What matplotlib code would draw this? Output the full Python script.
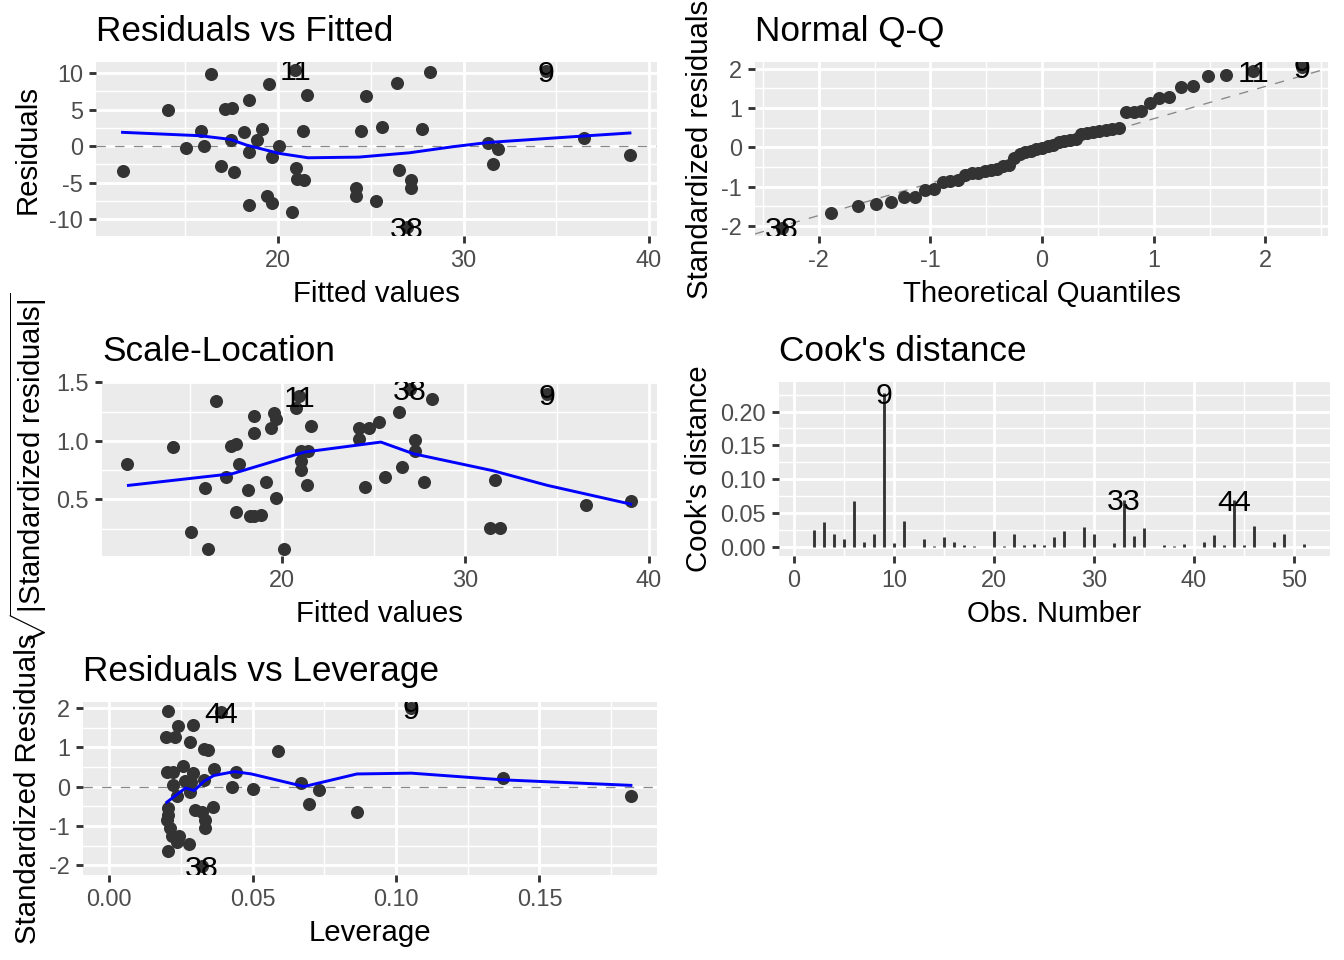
import numpy as np
import matplotlib
matplotlib.use("Agg")
import matplotlib.pyplot as plt
from matplotlib.ticker import FixedLocator

plt.rcParams["font.family"] = ["Liberation Sans", "DejaVu Sans"]
plt.rcParams["mathtext.fontset"] = "custom"
plt.rcParams["mathtext.rm"] = "Liberation Sans"
plt.rcParams["mathtext.it"] = "Liberation Sans:italic"
plt.rcParams["axes.unicode_minus"] = False

# ---- Residuals vs Fitted ----
rf_fitted = [11.62, 14.05, 15.03, 15.87, 16.00, 16.39, 16.94, 17.17, 17.52, 17.49,
             17.64, 18.17, 18.44, 18.44, 18.44, 18.85, 19.12, 19.40, 19.53, 19.67,
             19.67, 20.06, 20.78, 20.94, 20.99, 21.03, 21.42, 21.33, 21.58, 24.19,
             24.19, 24.46, 24.74, 25.30, 25.58, 26.39, 26.51, 26.96, 27.19, 27.19,
             27.76, 28.17, 31.31, 31.85, 31.58, 34.44, 36.49, 38.97]
rf_resid = [-3.44, 4.91, -0.32, 2.06, 0.00, 9.86, -2.71, 5.05, 5.18, 0.83,
            -3.53, 1.88, 6.33, -0.78, -8.03, 0.83, 2.34, -6.83, 8.49, -1.47,
            -7.75, 0.05, -9.04, 10.46, -2.98, -4.45, -4.68, 2.11, 7.02, -5.73,
            -6.83, 2.06, 6.88, -7.48, 2.66, 8.62, -3.30, -11.10, -4.59, -5.69,
            2.34, 10.09, 0.37, -0.46, -2.39, 10.23, 1.06, -1.24]
rf_smooth_x = [11.62, 15.77, 17.43, 18.30, 20.06, 21.62, 24.35, 27.08, 29.42, 31.36, 36.49, 38.97]
rf_smooth_y = [1.88, 1.42, 0.92, 0.14, -1.00, -1.60, -1.51, -0.92, -0.09, 0.50, 1.38, 1.79]
rf_labels = [("11", 20.94, 10.46), ("9", 34.44, 10.23), ("38", 26.96, -11.10)]

# ---- Normal Q-Q ----
qq_theo = [-2.33, -1.89, -1.65, -1.49, -1.35, -1.24, -1.14, -1.05, -0.97, -0.89,
           -0.82, -0.75, -0.69, -0.63, -0.57, -0.51, -0.46, -0.40, -0.35, -0.30,
           -0.25, -0.20, -0.15, -0.10, -0.05, 0.00, 0.05, 0.10, 0.15, 0.20,
           0.25, 0.30, 0.35, 0.40, 0.46, 0.51, 0.57, 0.63, 0.69, 0.75,
           0.82, 0.89, 0.97, 1.05, 1.14, 1.24, 1.35, 1.49, 1.65, 1.89, 2.33]
qq_sample = [-2.04, -1.66, -1.49, -1.43, -1.38, -1.27, -1.27, -1.07, -1.05, -0.87,
             -0.86, -0.84, -0.69, -0.65, -0.64, -0.60, -0.57, -0.54, -0.48, -0.45,
             -0.26, -0.17, -0.11, -0.08, -0.05, -0.02, 0.03, 0.06, 0.13, 0.17,
             0.19, 0.22, 0.34, 0.37, 0.39, 0.41, 0.43, 0.46, 0.50, 0.89,
             0.91, 0.93, 1.13, 1.25, 1.28, 1.54, 1.57, 1.81, 1.85, 1.93, 2.04]
qq_line_slope = 0.82
qq_line_icept = -0.09
qq_labels = [("38", -2.33, -2.04), ("11", 1.89, 1.93), ("9", 2.33, 2.04)]

# ---- Scale-Location ----
sl_fitted = [11.57, 14.06, 15.02, 15.83, 15.95, 16.41, 16.94, 17.22, 17.49, 17.49,
             17.63, 18.14, 18.28, 18.48, 18.84, 18.46, 18.46, 19.13, 19.41, 19.57,
             19.70, 19.70, 20.10, 20.79, 20.95, 21.05, 21.44, 21.05, 21.05, 21.34,
             21.60, 24.20, 24.76, 24.20, 24.50, 25.31, 25.59, 26.40, 26.54, 26.97,
             27.23, 27.23, 27.76, 28.19, 31.35, 31.90, 31.61, 34.47, 36.56, 39.01]
sl_sqrt_std = [0.80, 0.95, 0.22, 0.60, 0.08, 1.34, 0.69, 0.96, 0.97, 0.39,
               0.80, 0.58, 0.36, 0.355, 0.37, 1.21, 1.07, 0.645, 1.11, 1.24,
               1.185, 0.51, 0.08, 1.28, 1.38, 0.915, 0.915, 0.83, 0.75, 0.62,
               1.13, 1.11, 1.11, 1.02, 0.61, 1.165, 0.69, 1.25, 0.775, 1.44,
               1.01, 0.915, 0.65, 1.355, 0.26, 0.26, 0.665, 1.40, 0.45, 0.49]
sl_smooth_x = [11.63, 17.30, 21.24, 25.39, 27.17, 31.51, 34.47, 39.01]
sl_smooth_y = [0.62, 0.72, 0.905, 0.99, 0.89, 0.745, 0.62, 0.46]
sl_labels = [("11", 20.95, 1.38), ("38", 26.97, 1.44), ("9", 34.47, 1.40)]

# ---- Cook's distance ----
obs_number = list(range(1, 52))
cooks_d = [0.001, 0.026, 0.0375, 0.019, 0.0125, 0.068, 0.007, 0.019, 0.227, 0.006,
           0.039, 0.001, 0.0125, 0.002, 0.015, 0.0077, 0.003, 0.0015, 0.001, 0.024,
           0.002, 0.020, 0.0034, 0.0043, 0.0034, 0.015, 0.0235, 0.001, 0.030, 0.020,
           0.0005, 0.0067, 0.070, 0.017, 0.029, 0.0005, 0.0038, 0.002, 0.0053, 0.0005,
           0.0077, 0.018, 0.003, 0.069, 0.0034, 0.032, 0.0005, 0.0077, 0.019, 0.0005,
           0.0043]
cd_labels = [("9", 9, 0.227), ("33", 33, 0.070), ("44", 44, 0.069)]

# ---- Residuals vs Leverage ----
lev = [0.0205, 0.0240, 0.0293, 0.0197, 0.0230, 0.0282, 0.0330, 0.0345, 0.0390, 0.0589,
       0.0201, 0.0223, 0.0256, 0.0293, 0.0264, 0.0286, 0.0330, 0.0367, 0.0441, 0.0223,
       0.0428, 0.0503, 0.0236, 0.0283, 0.0670, 0.0730, 0.0697, 0.0864, 0.1373, 0.1819,
       0.1054, 0.0205, 0.0205, 0.0201, 0.0214, 0.0218, 0.0244, 0.0236, 0.0280, 0.0207,
       0.0299, 0.0323, 0.0333, 0.0333, 0.0362, 0.0323]
lev_std_res = [1.92, 1.54, 1.57, 1.27, 1.25, 1.14, 0.96, 0.93, 1.89, 0.91,
               0.38, 0.38, 0.51, 0.34, 0.14, 0.11, 0.17, 0.45, 0.36, 0.03,
               -0.02, -0.06, -0.25, -0.13, 0.08, -0.08, -0.45, -0.65, 0.21, -0.25,
               1.99, -0.55, -0.72, -0.85, -1.06, -1.27, -1.27, -1.40, -1.47, -1.64,
               -0.59, -0.64, -0.85, -1.06, -0.51, -2.03]
lev_smooth_x = [0.0201, 0.0266, 0.0297, 0.0332, 0.0365, 0.0437, 0.0496, 0.0680, 0.0864, 0.1054, 0.1373, 0.1819]
lev_smooth_y = [-0.40, -0.04, -0.10, 0.14, 0.28, 0.38, 0.32, 0.00, 0.32, 0.34, 0.17, 0.03]
lev_labels = [("44", 0.0390, 1.89), ("9", 0.1054, 1.99), ("38", 0.0323, -2.03)]

W, H = 1344, 960
PT_COLOR = "#333333"
REF_COLOR = "#888888"
SMOOTH_COLOR = "#0000FF"


def rect(l, t, r, b):
    return [l / W, 1 - b / H, (r - l) / W, (b - t) / H]


def style(ax, xmaj, xmin, ymaj, ymin, xfmt, yfmt):
    ax.set_facecolor("#EBEBEB")
    for s in ax.spines.values():
        s.set_visible(False)
    ax.xaxis.set_major_locator(FixedLocator(xmaj))
    ax.yaxis.set_major_locator(FixedLocator(ymaj))
    ax.set_xticks(xmin, minor=True)
    ax.set_yticks(ymin, minor=True)
    ax.set_xticklabels([xfmt.format(v) for v in xmaj])
    ax.set_yticklabels([yfmt.format(v) for v in ymaj])
    ax.grid(which="major", color="white", linewidth=1.07)
    ax.grid(which="minor", color="white", linewidth=0.53)
    ax.set_axisbelow(True)
    ax.tick_params(which="major", length=2.75, width=1.07, color="#333333",
                   labelsize=8.8, labelcolor="#4D4D4D", pad=2.2)
    ax.tick_params(which="minor", length=0)


def labels(ax, items):
    # ggplot centres the glyphs on the point; nudge down a little to match
    for txt, x, y in items:
        ax.annotate(txt, (x, y), xytext=(0, -1.0), textcoords="offset points",
                    ha="center", va="center", fontsize=11.4, color="black",
                    annotation_clip=False, clip_on=True)


def titles(ax, title, xl, yl):
    ax.set_title(title, loc="left", fontsize=13.2, pad=7.9)
    ax.set_xlabel(xl, fontsize=11, labelpad=2.75)
    ax.set_ylabel(yl, fontsize=11, labelpad=2.75)


fig = plt.figure(figsize=(7, 5), dpi=192)

# Residuals vs Fitted
ax1 = fig.add_axes(rect(96, 62, 657, 236))
style(ax1, [20, 30, 40], [15, 25, 35], [-10, -5, 0, 5, 10], [-7.5, -2.5, 2.5, 7.5], "{:g}", "{:g}")
ax1.set_xlim(10.19, 40.43)
ax1.set_ylim(-12.3, 11.5)
ax1.axhline(0, color=REF_COLOR, lw=0.5, ls=(0, (7, 7)))
ax1.scatter(rf_fitted, rf_resid, s=24, color=PT_COLOR, linewidths=0, zorder=3)
ax1.plot(rf_smooth_x, rf_smooth_y, color=SMOOTH_COLOR, lw=1.1, zorder=4)
labels(ax1, rf_labels)
titles(ax1, "Residuals vs Fitted", "Fitted values", "Residuals")

# Normal Q-Q
ax2 = fig.add_axes(rect(755, 62, 1328, 236))
style(ax2, [-2, -1, 0, 1, 2], [-2.5, -1.5, -0.5, 0.5, 1.5, 2.5], [-2, -1, 0, 1, 2],
      [-1.5, -0.5, 0.5, 1.5], "{:g}", "{:g}")
ax2.set_xlim(-2.57, 2.56)
ax2.set_ylim(-2.25, 2.17)
xx = np.array([-2.57, 2.56])
ax2.plot(xx, qq_line_icept + qq_line_slope * xx, color=REF_COLOR, lw=0.5, ls=(0, (7, 7)))
ax2.scatter(qq_theo, qq_sample, s=24, color=PT_COLOR, linewidths=0, zorder=3)
labels(ax2, qq_labels)
titles(ax2, "Normal Q-Q", "Theoretical Quantiles", "Standardized residuals")

# Scale-Location
ax3 = fig.add_axes(rect(102, 382, 657, 556))
style(ax3, [20, 30, 40], [15, 25, 35], [0.5, 1.0, 1.5], [0.25, 0.75, 1.25], "{:g}", "{:.1f}")
ax3.set_xlim(10.19, 40.44)
ax3.set_ylim(0.017, 1.503)
ax3.scatter(sl_fitted, sl_sqrt_std, s=24, color=PT_COLOR, linewidths=0, zorder=3)
ax3.plot(sl_smooth_x, sl_smooth_y, color=SMOOTH_COLOR, lw=1.1, zorder=4)
labels(ax3, sl_labels)
titles(ax3, "Scale-Location", "Fitted values",
       r"$\sqrt{|\mathrm{Standardized\ residuals}|}$")

# Cook's distance
ax4 = fig.add_axes(rect(779, 382, 1330, 556))
style(ax4, [0, 10, 20, 30, 40, 50], [5, 15, 25, 35, 45],
      [0.0, 0.05, 0.10, 0.15, 0.20], [0.025, 0.075, 0.125, 0.175, 0.225], "{:g}", "{:.2f}")
ax4.set_xlim(-1.5, 53.6)
ax4.set_ylim(-0.0129, 0.2435)
ax4.vlines(obs_number, 0, cooks_d, color=PT_COLOR, lw=1.07, zorder=3)
labels(ax4, cd_labels)
titles(ax4, "Cook's distance", "Obs. Number", "Cook's distance")

# Residuals vs Leverage
ax5 = fig.add_axes(rect(83, 702, 657, 875))
style(ax5, [0.0, 0.05, 0.10, 0.15], [0.025, 0.075, 0.125, 0.175], [-2, -1, 0, 1, 2],
      [-1.5, -0.5, 0.5, 1.5], "{:.2f}", "{:g}")
ax5.set_xlim(-0.0091, 0.191)
ax5.set_ylim(-2.25, 2.15)
ax5.axhline(0, color=REF_COLOR, lw=0.5, ls=(0, (7, 7)))
ax5.scatter(lev, lev_std_res, s=24, color=PT_COLOR, linewidths=0, zorder=3)
ax5.plot(lev_smooth_x, lev_smooth_y, color=SMOOTH_COLOR, lw=1.1, zorder=4)
labels(ax5, lev_labels)
titles(ax5, "Residuals vs Leverage", "Leverage", "Standardized Residuals")

fig.savefig("out.png", dpi=192)
